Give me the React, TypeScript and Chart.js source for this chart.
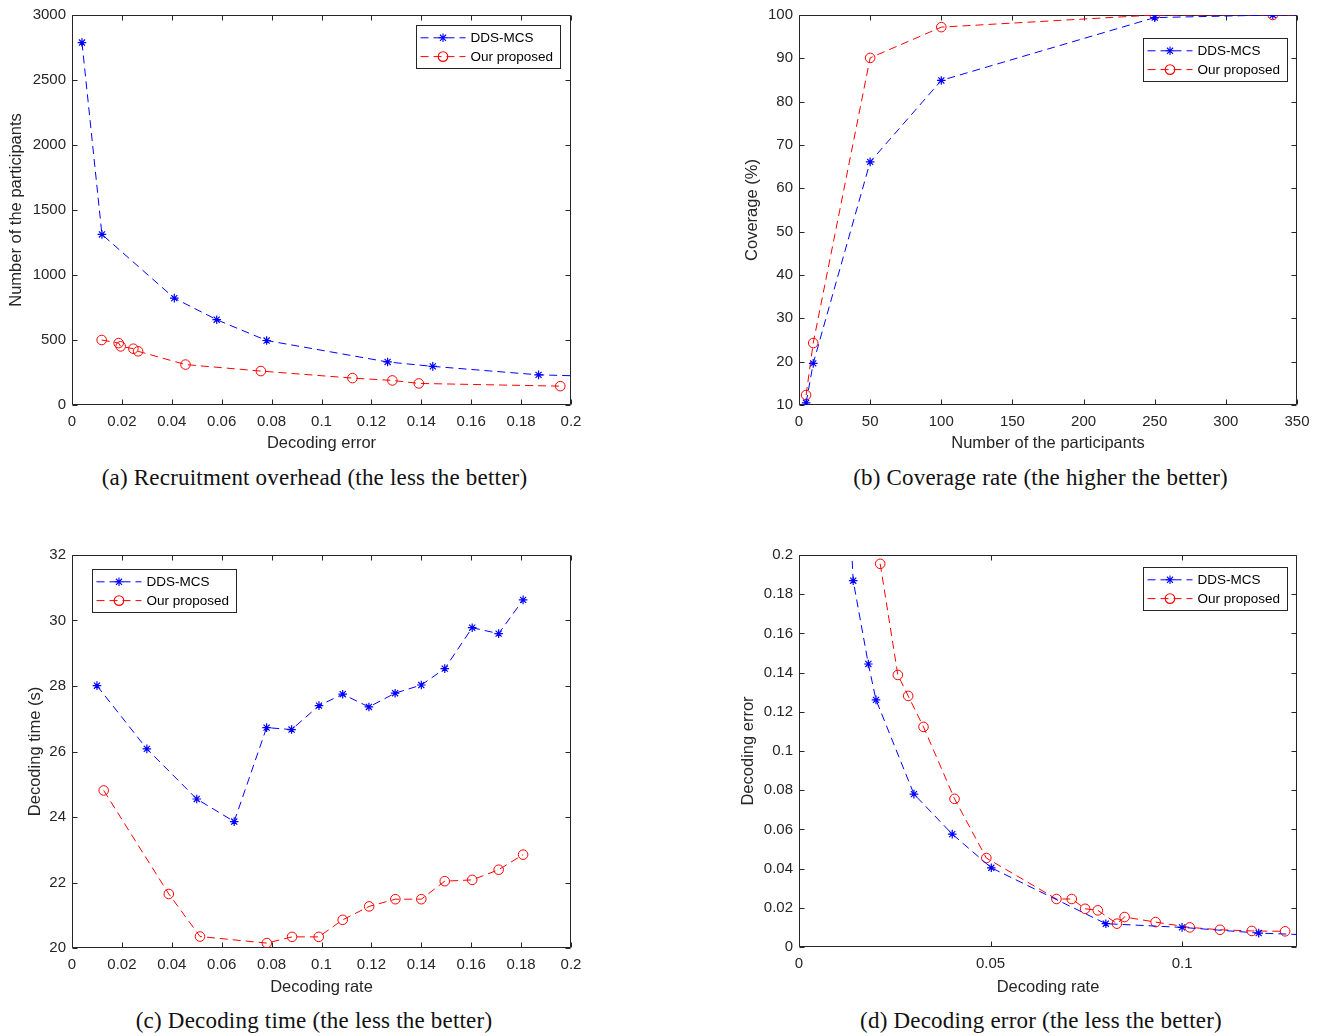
import React, { useEffect, useRef } from "react";
import { Chart, registerables } from "chart.js";

Chart.register(...registerables);

// ---------- Data ----------
// (a) Recruitment overhead
const aBlueX = [0.004, 0.012, 0.041, 0.058, 0.078, 0.1265, 0.1446, 0.187, 0.22];
const aBlueY = [2788, 1312, 822, 656, 496, 331, 297, 232, 215];
const aRedX = [0.0119, 0.0187, 0.0195, 0.0246, 0.0265, 0.0455, 0.0757, 0.1124, 0.1284, 0.139, 0.1957];
const aRedY = [500, 476, 451, 433, 413, 311, 261, 207, 189, 166, 145];

// (b) Coverage rate
const bBlueX = [5, 10, 50, 100, 250, 333, 400];
const bBlueY = [10.5, 19.6, 66.1, 84.9, 99.4, 100, 100];
const bRedX = [5, 10, 50, 100, 250, 333, 400];
const bRedY = [12.3, 24.3, 90.1, 97.2, 100, 100, 100];

// (c) Decoding time
const cBlueX = [0.01, 0.03, 0.05, 0.065, 0.078, 0.088, 0.099, 0.1085, 0.119, 0.1295, 0.14, 0.1494, 0.1604, 0.171, 0.1808];
const cBlueY = [28.01, 26.08, 24.55, 23.86, 26.73, 26.67, 27.4, 27.75, 27.36, 27.78, 28.03, 28.53, 29.78, 29.6, 30.63];
const cRedX = [0.0127, 0.0388, 0.0513, 0.0781, 0.0882, 0.0989, 0.1085, 0.1191, 0.1296, 0.14, 0.1494, 0.1604, 0.171, 0.1808];
const cRedY = [24.81, 21.65, 20.35, 20.15, 20.34, 20.34, 20.86, 21.27, 21.49, 21.49, 22.04, 22.08, 22.39, 22.85];

// (d) Decoding error
const dBlueX = [0.0125, 0.01415, 0.0181, 0.0201, 0.03, 0.04, 0.0502, 0.0801, 0.1, 0.12, 0.14];
const dBlueY = [0.25, 0.1869, 0.1444, 0.1261, 0.078, 0.0576, 0.0404, 0.0119, 0.01, 0.0071, 0.0057];
const dRedX = [0.0212, 0.0258, 0.0285, 0.0325, 0.0406, 0.0489, 0.0672, 0.0712, 0.0747, 0.078, 0.083, 0.085, 0.0931, 0.102, 0.1099, 0.1182, 0.1269];
const dRedY = [0.1955, 0.1388, 0.1281, 0.1123, 0.0756, 0.0454, 0.0245, 0.0245, 0.0195, 0.0187, 0.0119, 0.0153, 0.0127, 0.01, 0.0088, 0.0082, 0.008];

const seriesNames = ["DDS-MCS", "Our proposed"];
const captions = [
  "(a) Recruitment overhead (the less the better)",
  "(b) Coverage rate (the higher the better)",
  "(c) Decoding time (the less the better)",
  "(d) Decoding error (the less the better)",
];

// ---------- Styles ----------
const BLUE = "#0000ff";
const RED = "#ff0000";
const AXIS = "#262626";
const DASH = [8, 5];
const SANS = "'Liberation Sans', Arial, Helvetica, sans-serif";
const TICK_FONT = { family: SANS, size: 15 };
const TITLE_FONT = { family: SANS, size: 16.5 };

const fmt = (v: any) => String(parseFloat(Number(v).toFixed(6)));

type LegendPos = { side: "left" | "right"; dx: number; dy: number };

type PanelCfg = {
  left: number;
  top: number;
  width: number;
  height: number;
  pad: { left: number; right: number; top: number; bottom: number };
  yAxisWidth: number;
  xAxisHeight: number;
  yTitlePad: number;
  xTitle: string;
  yTitle: string;
  xMin: number;
  xMax: number;
  xStep: number;
  yMin: number;
  yMax: number;
  yStep: number;
  blueX: number[];
  blueY: number[];
  redX: number[];
  redY: number[];
  legend: LegendPos;
};

const framePlugin = {
  id: "matlabFrame",
  beforeDatasetsDraw(chart: any) {
    const { ctx, chartArea } = chart;
    const L = Math.round(chartArea.left) + 0.5;
    const R = Math.round(chartArea.right) - 0.5;
    const T = Math.round(chartArea.top) + 0.5;
    const B = Math.round(chartArea.bottom) - 0.5;
    const tl = 5;
    ctx.save();
    ctx.strokeStyle = AXIS;
    ctx.lineWidth = 1;
    ctx.setLineDash([]);
    ctx.beginPath();
    ctx.rect(L, T, R - L, B - T);
    const xs = chart.scales.x;
    const ys = chart.scales.y;
    for (const t of xs.ticks) {
      const px = Math.round(xs.getPixelForValue(t.value)) + 0.5;
      ctx.moveTo(px, B);
      ctx.lineTo(px, B - tl);
      ctx.moveTo(px, T);
      ctx.lineTo(px, T + tl);
    }
    for (const t of ys.ticks) {
      const py = Math.round(ys.getPixelForValue(t.value)) + 0.5;
      ctx.moveTo(L, py);
      ctx.lineTo(L + tl, py);
      ctx.moveTo(R, py);
      ctx.lineTo(R - tl, py);
    }
    ctx.stroke();
    ctx.restore();
  },
};

function drawStar(ctx: CanvasRenderingContext2D, x: number, y: number, r: number) {
  const d = r * Math.SQRT1_2;
  ctx.beginPath();
  ctx.moveTo(x - r, y);
  ctx.lineTo(x + r, y);
  ctx.moveTo(x, y - r);
  ctx.lineTo(x, y + r);
  ctx.moveTo(x - d, y - d);
  ctx.lineTo(x + d, y + d);
  ctx.moveTo(x - d, y + d);
  ctx.lineTo(x + d, y - d);
  ctx.stroke();
}

function makeLegendPlugin(pos: LegendPos) {
  return {
    id: "matlabLegend",
    afterDatasetsDraw(chart: any) {
      const { ctx, chartArea } = chart;
      const w = 143.5;
      const h = 42.5;
      const bx = pos.side === "right" ? chartArea.right - pos.dx - w : chartArea.left + pos.dx;
      const by = chartArea.top + pos.dy;
      ctx.save();
      ctx.fillStyle = "#ffffff";
      ctx.fillRect(bx, by, w, h);
      ctx.strokeStyle = AXIS;
      ctx.lineWidth = 1;
      ctx.setLineDash([]);
      ctx.strokeRect(Math.round(bx) + 0.5, Math.round(by) + 0.5, Math.round(w), Math.round(h));
      chart.data.datasets.forEach((ds: any, i: number) => {
        const ry = by + 12.8 + i * 18.8;
        const color = ds.borderColor;
        ctx.strokeStyle = color;
        ctx.lineWidth = 1;
        ctx.setLineDash(DASH);
        ctx.beginPath();
        ctx.moveTo(bx + 5, ry);
        ctx.lineTo(bx + 50, ry);
        ctx.stroke();
        ctx.setLineDash([]);
        const mx = bx + 27.5;
        ctx.lineWidth = 1.1;
        if (ds.pointStyle === "star") {
          drawStar(ctx, mx, ry, ds.pointRadius);
        } else {
          ctx.beginPath();
          ctx.arc(mx, ry, ds.pointRadius, 0, Math.PI * 2);
          ctx.stroke();
        }
        ctx.fillStyle = "#000000";
        ctx.font = `13.5px ${SANS}`;
        ctx.textBaseline = "middle";
        ctx.textAlign = "left";
        ctx.fillText(ds.label, bx + 55, ry + 0.5);
      });
      ctx.restore();
    },
  };
}

function stepFilter(step: number) {
  return (scale: any) => {
    scale.ticks = scale.ticks.filter((t: any) => {
      const k = t.value / step;
      return Math.abs(k - Math.round(k)) < 1e-6;
    });
  };
}

function Panel({ cfg }: { cfg: PanelCfg }) {
  const ref = useRef<HTMLCanvasElement>(null);
  useEffect(() => {
    const chart = new Chart(ref.current as HTMLCanvasElement, {
      type: "line",
      data: {
        datasets: [
          {
            label: seriesNames[0],
            data: cfg.blueX.map((x, i) => ({ x, y: cfg.blueY[i] })),
            borderColor: BLUE,
            backgroundColor: "rgba(0,0,0,0)",
            borderWidth: 1,
            borderDash: DASH,
            pointStyle: "star",
            pointRadius: 4.3,
            pointBorderColor: BLUE,
            pointBackgroundColor: BLUE,
            pointBorderWidth: 1.2,
            pointHoverRadius: 4.3,
            tension: 0,
            fill: false,
          } as any,
          {
            label: seriesNames[1],
            data: cfg.redX.map((x, i) => ({ x, y: cfg.redY[i] })),
            borderColor: RED,
            backgroundColor: "rgba(0,0,0,0)",
            borderWidth: 1,
            borderDash: DASH,
            pointStyle: "circle",
            pointRadius: 4.8,
            pointBorderColor: RED,
            pointBackgroundColor: "rgba(0,0,0,0)",
            pointBorderWidth: 1,
            pointHoverRadius: 4.8,
            tension: 0,
            fill: false,
          } as any,
        ],
      },
      options: {
        animation: false,
        responsive: false,
        events: [],
        layout: { padding: cfg.pad },
        plugins: { legend: { display: false }, tooltip: { enabled: false } },
        scales: {
          x: {
            type: "linear",
            min: cfg.xMin,
            max: cfg.xMax,
            ticks: {
              stepSize: cfg.xStep,
              autoSkip: false,
              maxRotation: 0,
              minRotation: 0,
              padding: 7.5,
              font: TICK_FONT,
              color: AXIS,
              callback: fmt,
            },
            grid: { display: false, drawTicks: false },
            border: { display: false },
            title: {
              display: true,
              text: cfg.xTitle,
              font: TITLE_FONT,
              color: AXIS,
              padding: { top: 0, bottom: 4 },
            },
            afterBuildTicks: stepFilter(cfg.xStep),
            afterFit: (s: any) => {
              s.height = cfg.xAxisHeight;
            },
          },
          y: {
            type: "linear",
            min: cfg.yMin,
            max: cfg.yMax,
            ticks: {
              stepSize: cfg.yStep,
              autoSkip: false,
              padding: 6,
              font: TICK_FONT,
              color: AXIS,
              callback: fmt,
            },
            grid: { display: false, drawTicks: false },
            border: { display: false },
            title: {
              display: true,
              text: cfg.yTitle,
              font: TITLE_FONT,
              color: AXIS,
              padding: { top: cfg.yTitlePad, bottom: 0 },
            },
            afterBuildTicks: stepFilter(cfg.yStep),
            afterFit: (s: any) => {
              s.width = cfg.yAxisWidth;
            },
          },
        },
      } as any,
      plugins: [framePlugin, makeLegendPlugin(cfg.legend)],
    });
    return () => chart.destroy();
  }, [cfg]);
  return (
    <canvas
      ref={ref}
      width={cfg.width}
      height={cfg.height}
      style={{ position: "absolute", left: cfg.left, top: cfg.top, width: cfg.width, height: cfg.height }}
    />
  );
}

const panels: PanelCfg[] = [
  {
    left: 0, top: 0, width: 600, height: 457,
    pad: { left: 0, right: 29, top: 13, bottom: 0 },
    yAxisWidth: 72, xAxisHeight: 52, yTitlePad: 7,
    xTitle: "Decoding error", yTitle: "Number of the participants",
    xMin: 0, xMax: 0.2, xStep: 0.02, yMin: 0, yMax: 3000, yStep: 500,
    blueX: aBlueX, blueY: aBlueY, redX: aRedX, redY: aRedY,
    legend: { side: "right", dx: 12, dy: 10 },
  },
  {
    left: 730, top: 0, width: 594, height: 457,
    pad: { left: 0, right: 27, top: 13, bottom: 0 },
    yAxisWidth: 69, xAxisHeight: 52, yTitlePad: 13,
    xTitle: "Number of the participants", yTitle: "Coverage (%)",
    xMin: 0, xMax: 350, xStep: 50, yMin: 10, yMax: 100, yStep: 10,
    blueX: bBlueX, blueY: bBlueY, redX: bRedX, redY: bRedY,
    legend: { side: "right", dx: 11, dy: 23 },
  },
  {
    left: 0, top: 540, width: 600, height: 461,
    pad: { left: 0, right: 29, top: 15, bottom: 0 },
    yAxisWidth: 72, xAxisHeight: 53, yTitlePad: 25.5,
    xTitle: "Decoding rate", yTitle: "Decoding time (s)",
    xMin: 0, xMax: 0.2, xStep: 0.02, yMin: 20, yMax: 32, yStep: 2,
    blueX: cBlueX, blueY: cBlueY, redX: cRedX, redY: cRedY,
    legend: { side: "left", dx: 19.5, dy: 14 },
  },
  {
    left: 730, top: 540, width: 594, height: 461,
    pad: { left: 0, right: 27, top: 15, bottom: 0 },
    yAxisWidth: 69, xAxisHeight: 54, yTitlePad: 8.4,
    xTitle: "Decoding rate", yTitle: "Decoding error",
    xMin: 0, xMax: 0.13, xStep: 0.05, yMin: 0, yMax: 0.2, yStep: 0.02,
    blueX: dBlueX, blueY: dBlueY, redX: dRedX, redY: dRedY,
    legend: { side: "right", dx: 11, dy: 12 },
  },
];

const captionPos = [
  { cx: 314.5, cy: 478 },
  { cx: 1040.5, cy: 478 },
  { cx: 314, cy: 1021 },
  { cx: 1041, cy: 1021 },
];

export default function App() {
  return (
    <div style={{ position: "absolute", left: 0, top: 0, width: 1324, height: 1036, background: "#ffffff", overflow: "hidden" }}>
      {panels.map((p, i) => (
        <Panel key={i} cfg={p} />
      ))}
      {captions.map((c, i) => (
        <div
          key={"c" + i}
          style={{
            position: "absolute",
            left: captionPos[i].cx - 320,
            top: captionPos[i].cy - 15,
            width: 640,
            height: 30,
            lineHeight: "30px",
            textAlign: "center",
            fontFamily: "'Liberation Serif', 'Times New Roman', serif",
            fontSize: 23,
            letterSpacing: 0.2,
            color: "#111111",
            whiteSpace: "nowrap",
          }}
        >
          {c}
        </div>
      ))}
    </div>
  );
}
